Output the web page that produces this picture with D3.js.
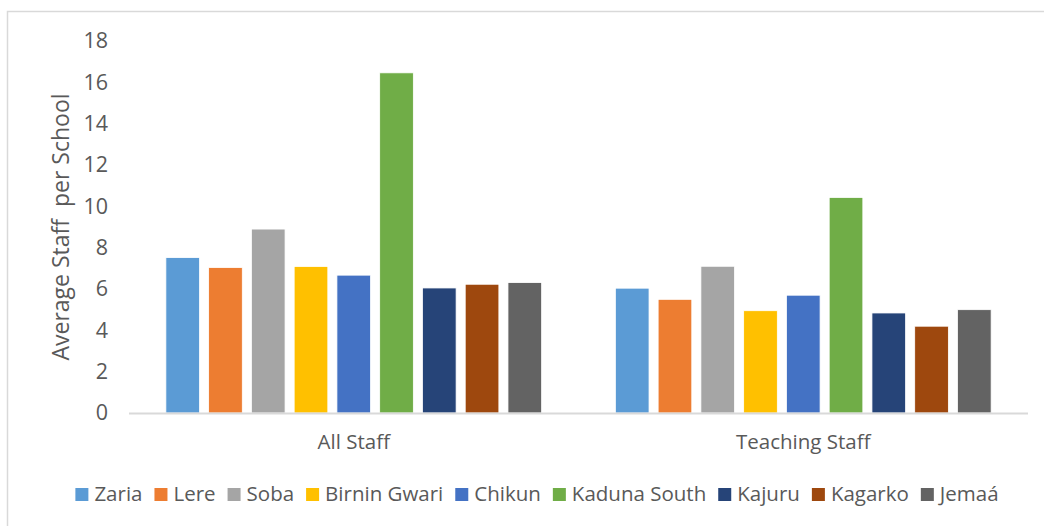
<!DOCTYPE html>
<html>
<head>
<meta charset="utf-8">
<script src="https://cdn.jsdelivr.net/npm/d3@7"></script>
<style>
  body { margin: 0; background: #fff; }
  text { font-family: "Open Sans", sans-serif; fill: #595959; }
</style>
</head>
<body>
<div id="vis"></div>
<script>
const WIDTH = 1044;
const HEIGHT = 526;

// datos
const categorias = ["All Staff", "Teaching Staff"];
const distritos = ["Zaria", "Lere", "Soba", "Birnin Gwari", "Chikun", "Kaduna South", "Kajuru", "Kagarko", "Jemaá"];
const allStaff = [7.52, 7.04, 8.9, 7.09, 6.67, 16.46, 6.05, 6.23, 6.31];
const teachingStaff = [6.04, 5.5, 7.1, 4.95, 5.7, 10.43, 4.84, 4.2, 5.0];
const colores = ["#5b9bd5", "#ed7d31", "#a5a5a5", "#ffc000", "#4472c4", "#70ad47", "#264478", "#9e480e", "#636363"];
const ticksY = [0, 2, 4, 6, 8, 10, 12, 14, 16, 18];

const valores = [allStaff, teachingStaff];

const margin = { top: 41, bottom: 114, left: 129, right: 16 };

const SVG = d3.select("#vis").append("svg")
  .attr("width", WIDTH)
  .attr("height", HEIGHT);

// borde (solo se ve arriba e izquierda)
SVG.append("rect")
  .attr("x", 7.5).attr("y", 11.5)
  .attr("width", 1060).attr("height", 540)
  .attr("fill", "none")
  .attr("stroke", "#d9d9d9")
  .attr("stroke-width", 1.5);

const escalaY = d3.scaleLinear()
  .domain([0, 18])
  .range([HEIGHT - margin.bottom + 1, margin.top]);

const escalaX = d3.scaleBand()
  .domain(categorias)
  .range([margin.left, WIDTH - margin.right])
  .padding(0);

const escalaDistrito = d3.scaleBand()
  .domain(distritos)
  .range([0, escalaX.bandwidth()])
  .paddingInner(0.2126)
  .paddingOuter(0.862);

// eje Y sin linea ni ticks
const ejeY = d3.axisLeft(escalaY).tickValues(ticksY).tickSize(0).tickPadding(21);
const gY = SVG.append("g")
  .attr("transform", `translate(${margin.left}, 0)`)
  .call(ejeY);
gY.select(".domain").remove();
gY.selectAll("text")
  .style("font-family", "'Open Sans', sans-serif")
  .style("font-size", "21.5px")
  .attr("fill", "#595959");

// barras
const grupos = SVG.selectAll(".grupo")
  .data(categorias)
  .join("g")
  .attr("class", "grupo")
  .attr("transform", (d) => `translate(${escalaX(d)}, 0)`);

grupos.selectAll("rect")
  .data((d, i) => valores[i].map((v, j) => ({ distrito: distritos[j], valor: v, color: colores[j] })))
  .join("rect")
  .attr("x", (d) => escalaDistrito(d.distrito))
  .attr("width", escalaDistrito.bandwidth())
  .attr("y", (d) => escalaY(d.valor))
  .attr("height", (d) => escalaY(0) - escalaY(d.valor))
  .attr("fill", (d) => d.color)
  .attr("stroke", "#fff")
  .attr("stroke-width", 0.8);

// eje X
SVG.append("line")
  .attr("x1", margin.left).attr("x2", WIDTH - margin.right)
  .attr("y1", escalaY(0) + 0.5).attr("y2", escalaY(0) + 0.5)
  .attr("stroke", "#d9d9d9")
  .attr("stroke-width", 2);

SVG.selectAll(".cat")
  .data(categorias)
  .join("text")
  .attr("class", "cat")
  .attr("x", (d) => escalaX(d) + escalaX.bandwidth() / 2)
  .attr("y", 449)
  .attr("text-anchor", "middle")
  .style("font-size", "20.5px")
  .text((d) => d);

// titulo eje Y
SVG.append("text")
  .attr("transform", `translate(69, 227) rotate(-90)`)
  .attr("text-anchor", "middle")
  .style("font-size", "23px")
  .style("white-space", "pre")
  .attr("xml:space", "preserve")
  .text("Average Staff  per School");

// leyenda
const leyenda = SVG.append("g").attr("class", "leyenda");
const item = leyenda.selectAll("g")
  .data(distritos)
  .join("g");
item.append("rect")
  .attr("width", 13).attr("height", 13)
  .attr("y", -13)
  .attr("fill", (d, i) => colores[i]);
item.append("text")
  .attr("x", 19)
  .attr("y", 0)
  .style("font-size", "20.5px")
  .text((d) => d);

let posX = 0;
item.each(function () {
  const w = d3.select(this).select("text").node().getComputedTextLength();
  d3.select(this).attr("transform", `translate(${posX}, 0)`);
  posX += 19 + w + 12;
});
const anchoLeyenda = posX - 12;
leyenda.attr("transform", `translate(${537 - anchoLeyenda / 2}, 501)`);
</script>
</body>
</html>
